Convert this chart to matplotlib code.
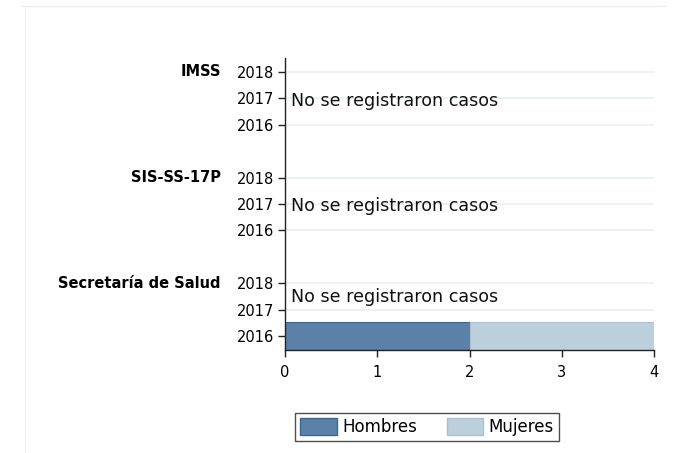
import matplotlib.pyplot as plt
from matplotlib.patches import Patch
from matplotlib.lines import Line2D

plt.rcParams['font.family'] = ['DejaVu Sans']

groups = ['IMSS', 'SIS-SS-17P', 'Secretaría de Salud']
years = ['2018', '2017', '2016']
# values per (group, year): hombres, mujeres
hombres = {'Secretaría de Salud': {'2016': 2}}
mujeres = {'Secretaría de Salud': {'2016': 2}}
no_data_text = 'No se registraron casos'
xticks = [0, 1, 2, 3, 4]

c_h = '#5b81a9'
c_h_edge = '#3e6690'
c_m = '#bccfdd'
c_m_edge = '#aebfcd'
grid_c = '#e9eff2'

fig = plt.figure(figsize=(6.77, 4.53), dpi=100)
ax = fig.add_axes([285 / 677, 1 - 350 / 453, 369 / 677, (350 - 58) / 453])

# y positions: each group has 3 years, gap of one slot between groups
pos = {}
base = 0
for g in reversed(groups):
    for i, yr in enumerate(reversed(years)):
        pos[(g, yr)] = base + i
    base += 4

for (g, yr), y in pos.items():
    ax.axhline(y, color=grid_c, lw=1.2, zorder=0)
    h = hombres.get(g, {}).get(yr, 0)
    m = mujeres.get(g, {}).get(yr, 0)
    if h:
        ax.barh(y, h, height=1.06, color=c_h, edgecolor=c_h_edge, lw=0.8, zorder=2)
    if m:
        ax.barh(y, m, left=h, height=1.06, color=c_m, edgecolor=c_m_edge, lw=0.8, zorder=2)

# "no data" notes
note_y = {'IMSS': 8.9, 'SIS-SS-17P': 4.92, 'Secretaría de Salud': 1.48}
for g, y in note_y.items():
    ax.text(0.07, y, no_data_text, fontsize=12.6, va='center', ha='left', color='#111111')

ax.set_xlim(0, 4)
ax.set_ylim(-0.53, 10.53)
ax.set_xticks(xticks)
ax.set_xticklabels([str(v) for v in xticks], fontsize=10.5)
yt = list(pos.values())
ax.set_yticks(yt)
ax.set_yticklabels([k[1] for k in pos.keys()], fontsize=10.5)
ax.tick_params(axis='both', length=5, width=1, color='#222222', pad=2.5)
ax.tick_params(axis='x', pad=6)
for s in ['top', 'right']:
    ax.spines[s].set_visible(False)
for s in ['left', 'bottom']:
    ax.spines[s].set_color('#222222')
    ax.spines[s].set_linewidth(1)

# group labels
for g in groups:
    y = pos[(g, '2018')]
    ax.text((221 - 285) / 369, y, g, transform=ax.get_yaxis_transform(), ha='right', va='center',
            fontsize=10.5, fontweight='bold')

# legend
handles = [Patch(facecolor=c_h, edgecolor=c_h_edge, label='Hombres'),
           Patch(facecolor=c_m, edgecolor=c_m_edge, label='Mujeres')]
leg = fig.legend(handles=handles, loc='center', bbox_to_anchor=(427 / 677, 1 - 427 / 453),
                 ncol=2, fontsize=12, frameon=True, fancybox=False, edgecolor='#222222',
                 handlelength=2.2, handleheight=1.2, columnspacing=1.8, handletextpad=0.3,
                 borderpad=0.3)
leg.get_frame().set_linewidth(1)

# outer light frame lines
fig.add_artist(Line2D([22 / 677, 665 / 677], [1 - 6 / 453, 1 - 6 / 453], color='#e8eef0', lw=1))
fig.add_artist(Line2D([25 / 677, 25 / 677], [0, 1 - 6 / 453], color='#eef2f3', lw=1))

fig.savefig('out.png', dpi=100)
